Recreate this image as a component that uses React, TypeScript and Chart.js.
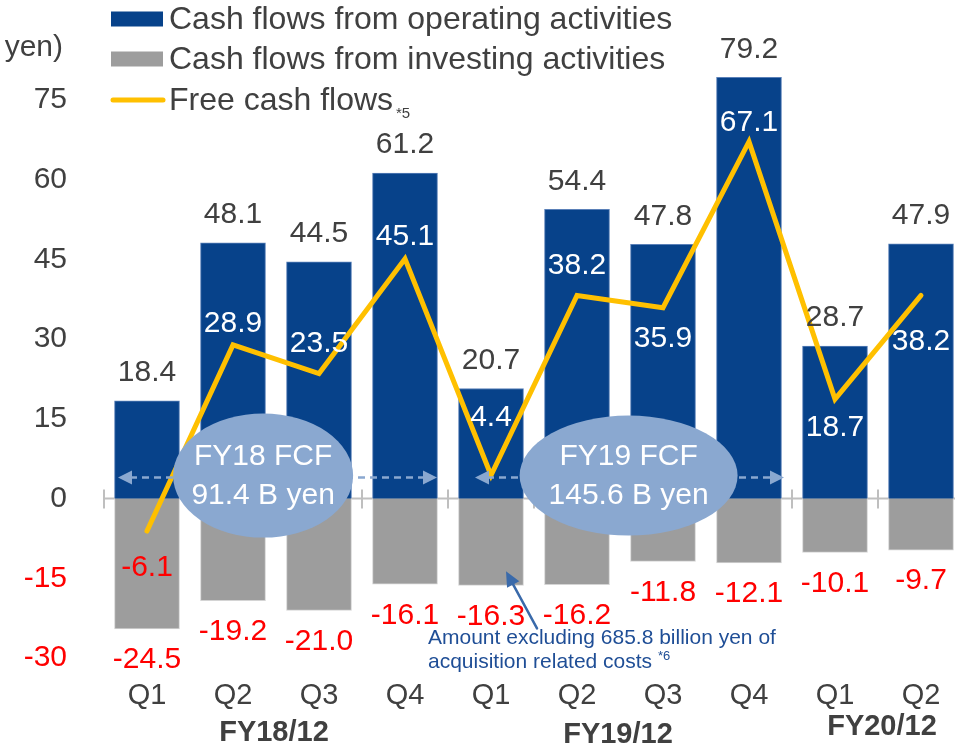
import React, { useEffect, useRef } from "react";
import { Chart, registerables } from "chart.js";

Chart.register(...registerables);

const categories = ["Q1", "Q2", "Q3", "Q4", "Q1", "Q2", "Q3", "Q4", "Q1", "Q2"];
const fiscalYears = ["FY18/12", "FY19/12", "FY20/12"];
const fiscalStart = [0, 4, 8];
const fiscalEnd = [3, 7, 9];
const operating = [18.4, 48.1, 44.5, 61.2, 20.7, 54.4, 47.8, 79.2, 28.7, 47.9];
const investing = [-24.5, -19.2, -21.0, -16.1, -16.3, -16.2, -11.8, -12.1, -10.1, -9.7];
const freeCash = [-6.1, 28.9, 23.5, 45.1, 4.4, 38.2, 35.9, 67.1, 18.7, 38.2];
const fcfTotalLabels = ["FY18 FCF", "FY19 FCF"];
const fcfTotals = [91.4, 145.6];
const yTicks = [-30, -15, 0, 15, 30, 45, 60, 75];
const yMin = -30;
const yMax = 83.4;

// label placement (styling only): pixel offset of FCF value labels from the line point
const fcfLabelOffset = [37, -21, -30, -22, -57, -30, 31, -19, 29, 46];

const FONT = "'Liberation Sans', Arial, Helvetica, sans-serif";
const BLUE = "#07428A";
const GRAY = "#9D9D9D";
const YELLOW = "#FFC000";
const TEXT = "#404040";
const RED = "#FF0000";
const BUBBLE = "#8AA8D0";
const NOTE = "#1F4E96";

function drawArrowHead(ctx: CanvasRenderingContext2D, x: number, y: number, dir: number, len: number, half: number) {
  ctx.beginPath();
  ctx.moveTo(x, y);
  ctx.lineTo(x - dir * len, y - half);
  ctx.lineTo(x - dir * len, y + half);
  ctx.closePath();
  ctx.fill();
}

const overlayPlugin = {
  id: "overlay",
  beforeDatasetsDraw(chart: any) {
    const ctx: CanvasRenderingContext2D = chart.ctx;
    const x = chart.scales.x;
    const y = chart.scales.y;
    const y0 = y.getPixelForValue(0);
    const area = chart.chartArea;
    ctx.save();
    ctx.strokeStyle = "#BFBFBF";
    ctx.lineWidth = 2;
    ctx.beginPath();
    ctx.moveTo(area.left, y0);
    ctx.lineTo(area.right, y0);
    ctx.stroke();
    const half = (x.getPixelForValue(1) - x.getPixelForValue(0)) / 2;
    for (let i = 0; i <= categories.length; i++) {
      const px = i < categories.length ? x.getPixelForValue(i) - half : x.getPixelForValue(i - 1) + half;
      ctx.beginPath();
      ctx.moveTo(px, y0 - 9);
      ctx.lineTo(px, y0 + 10);
      ctx.stroke();
    }
    ctx.restore();
  },
  afterDatasetsDraw(chart: any) {
    const ctx: CanvasRenderingContext2D = chart.ctx;
    const x = chart.scales.x;
    const y = chart.scales.y;
    const half = (x.getPixelForValue(1) - x.getPixelForValue(0)) / 2;
    ctx.save();

    // dashed arrows + bubbles
    const arrowY = y.getPixelForValue(0) - 21;
    const arrowInset = [[14, 11], [27, 8]];
    const bubbleCenterIdx = [1.35, 5.6];
    const bubbleRx = [90, 109];
    const bubbleRy = [62, 60];
    for (let g = 0; g < fcfTotals.length; g++) {
      const xl = x.getPixelForValue(fiscalStart[g]) - half + arrowInset[g][0];
      const xr = x.getPixelForValue(fiscalEnd[g]) + half - arrowInset[g][1];
      ctx.strokeStyle = BUBBLE;
      ctx.fillStyle = BUBBLE;
      ctx.lineWidth = 2.5;
      ctx.setLineDash([7, 5]);
      ctx.beginPath();
      ctx.moveTo(xl + 12, arrowY);
      ctx.lineTo(xr - 12, arrowY);
      ctx.stroke();
      ctx.setLineDash([]);
      drawArrowHead(ctx, xl, arrowY, -1, 14, 7);
      drawArrowHead(ctx, xr, arrowY, 1, 14, 7);

      const cx = x.getPixelForValue(0) + bubbleCenterIdx[g] * half * 2;
      const cy = arrowY - 2;
      ctx.beginPath();
      ctx.ellipse(cx, cy, bubbleRx[g], bubbleRy[g], 0, 0, Math.PI * 2);
      ctx.fill();
      ctx.fillStyle = "#FFFFFF";
      ctx.font = `30px ${FONT}`;
      ctx.textAlign = "center";
      ctx.textBaseline = "middle";
      ctx.fillText(fcfTotalLabels[g], cx, cy - 19);
      ctx.fillText(`${fcfTotals[g].toFixed(1)} B yen`, cx, cy + 20);
    }

    // value labels
    ctx.font = `30px ${FONT}`;
    ctx.textAlign = "center";
    ctx.textBaseline = "middle";
    for (let i = 0; i < categories.length; i++) {
      const px = x.getPixelForValue(i);
      ctx.fillStyle = TEXT;
      ctx.fillText(operating[i].toFixed(1), px, y.getPixelForValue(operating[i]) - 28);
      ctx.fillStyle = RED;
      ctx.fillText(investing[i].toFixed(1), px, y.getPixelForValue(investing[i]) + 31);
      ctx.fillStyle = freeCash[i] < 0 ? RED : "#FFFFFF";
      ctx.fillText(freeCash[i].toFixed(1), px, y.getPixelForValue(freeCash[i]) + fcfLabelOffset[i]);
    }

    // fiscal year group labels
    ctx.fillStyle = TEXT;
    ctx.font = `bold 29px ${FONT}`;
    const fyY = [733, 735, 727];
    for (let g = 0; g < fiscalYears.length; g++) {
      const cx = (x.getPixelForValue(fiscalStart[g]) + x.getPixelForValue(fiscalEnd[g])) / 2;
      ctx.fillText(fiscalYears[g], fiscalStart[g] === 8 ? cx + 4 : cx - 2, fyY[g]);
    }

    // unit label
    ctx.font = `30px ${FONT}`;
    ctx.textAlign = "right";
    ctx.fillStyle = TEXT;
    ctx.fillText("yen)", 63, 48);

    // legend
    const ds = chart.data.datasets;
    const legendOrder = [1, 2, 0];
    const rowY = [19, 59, 100];
    ctx.textAlign = "left";
    ctx.font = `32px ${FONT}`;
    legendOrder.forEach((di: number, r: number) => {
      const d = ds[di];
      if (d.type === "line") {
        ctx.strokeStyle = d.borderColor;
        ctx.lineWidth = 5;
        ctx.lineCap = "round";
        ctx.beginPath();
        ctx.moveTo(113, rowY[r]);
        ctx.lineTo(163, rowY[r]);
        ctx.stroke();
      } else {
        ctx.fillStyle = d.backgroundColor;
        ctx.fillRect(111, rowY[r] - 7.5, 52, 15);
      }
      ctx.fillStyle = TEXT;
      ctx.fillText(d.label, 169, rowY[r] + 1);
    });
    ctx.font = `15px ${FONT}`;
    ctx.fillText("*5", 396, 114);

    // annotation
    ctx.fillStyle = NOTE;
    ctx.font = `21px ${FONT}`;
    ctx.fillText("Amount excluding 685.8 billion yen of", 428, 638);
    ctx.fillText("acquisition related costs", 428, 662);
    const w = ctx.measureText("acquisition related costs ").width;
    ctx.font = `13px ${FONT}`;
    ctx.fillText("*6", 428 + w, 656);
    ctx.strokeStyle = "#3A6AAA";
    ctx.fillStyle = "#3A6AAA";
    ctx.lineWidth = 2.5;
    const tipX = x.getPixelForValue(4) + 15;
    const tipY = y.getPixelForValue(investing[4]) - 14;
    const fromX = tipX + 31;
    const fromY = tipY + 57;
    ctx.beginPath();
    ctx.moveTo(fromX, fromY);
    ctx.lineTo(tipX + 6, tipY + 11);
    ctx.stroke();
    const ang = Math.atan2(tipY - fromY, tipX - fromX);
    ctx.beginPath();
    ctx.moveTo(tipX, tipY);
    ctx.lineTo(tipX - 15 * Math.cos(ang) + 7 * Math.sin(ang), tipY - 15 * Math.sin(ang) - 7 * Math.cos(ang));
    ctx.lineTo(tipX - 15 * Math.cos(ang) - 7 * Math.sin(ang), tipY - 15 * Math.sin(ang) + 7 * Math.cos(ang));
    ctx.closePath();
    ctx.fill();

    ctx.restore();
  },
};

export default function App() {
  const ref = useRef<HTMLCanvasElement | null>(null);
  useEffect(() => {
    document.body.style.margin = "0";
    const canvas = ref.current;
    if (!canvas) return;
    const chart = new Chart(canvas, {
      type: "bar",
      data: {
        labels: categories,
        datasets: [
          {
            type: "line",
            label: "Free cash flows",
            data: freeCash,
            borderColor: YELLOW,
            backgroundColor: YELLOW,
            borderWidth: 5,
            pointRadius: 0,
            tension: 0,
            borderCapStyle: "round",
            borderJoinStyle: "miter",
            order: 0,
          } as any,
          {
            type: "bar",
            label: "Cash flows from operating activities",
            data: operating,
            backgroundColor: BLUE,
            borderColor: "#5A80B8",
            borderWidth: 1,
            barThickness: 65,
            grouped: false,
            order: 1,
          } as any,
          {
            type: "bar",
            label: "Cash flows from investing activities",
            data: investing,
            backgroundColor: GRAY,
            borderColor: "#D4D4D4",
            borderWidth: 1,
            barThickness: 65,
            grouped: false,
            order: 2,
          } as any,
        ],
      },
      options: {
        responsive: false,
        animation: false,
        layout: { padding: { top: 0, right: 0, bottom: 15, left: 0 } },
        plugins: { legend: { display: false }, tooltip: { enabled: false } },
        scales: {
          x: {
            type: "category",
            offset: true,
            grid: { display: false, drawTicks: false },
            border: { display: false },
            ticks: { color: TEXT, font: { family: FONT, size: 29 }, padding: 20, maxRotation: 0, autoSkip: false },
          },
          y: {
            min: yMin,
            max: yMax,
            grid: { display: false, drawTicks: false },
            border: { display: false },
            afterFit: (scale: any) => {
              scale.width = 104;
            },
            afterBuildTicks: (scale: any) => {
              scale.ticks = yTicks.map((v) => ({ value: v }));
            },
            ticks: {
              padding: 37,
              font: { family: FONT, size: 30 },
              color: (c: any) => (c.tick && c.tick.value < 0 ? RED : TEXT),
              callback: (v: any) => String(v),
            },
          },
        },
      },
      plugins: [overlayPlugin],
    });
    return () => chart.destroy();
  }, []);
  return (
    <div style={{ width: 955, height: 748, overflow: "hidden" }}>
      <canvas ref={ref} width={964} height={748} style={{ display: "block" }} />
    </div>
  );
}
